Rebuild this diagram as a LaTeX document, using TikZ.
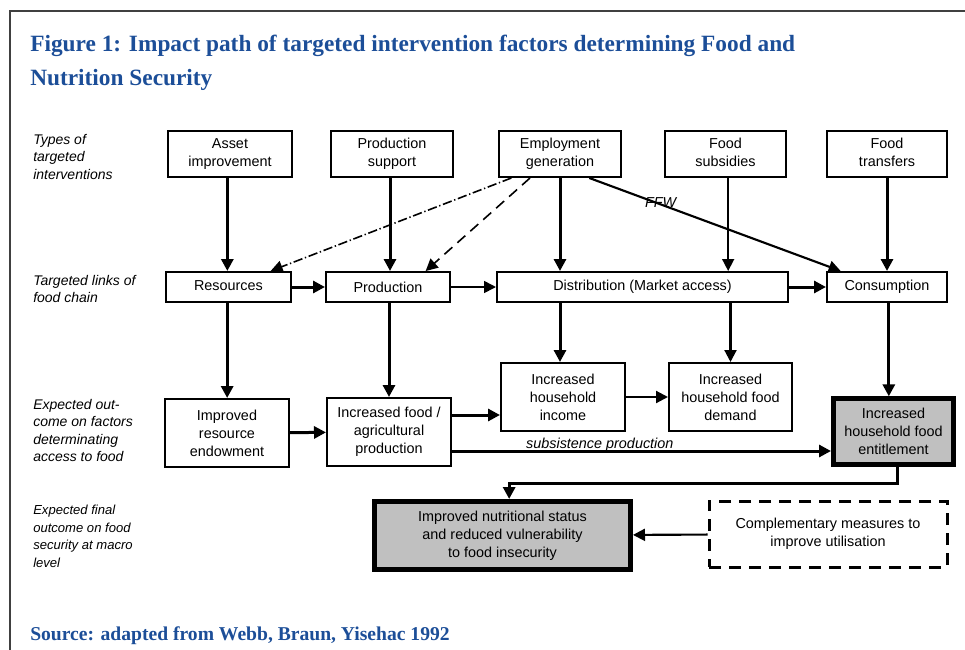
\documentclass[tikz,border=0pt]{standalone}
\usepackage{fontspec}
\setmainfont{Liberation Sans}
\newfontfamily\headfont{Liberation Serif}
\usetikzlibrary{arrows.meta}
\definecolor{headblue}{RGB}{28,78,152}
\definecolor{boxgray}{RGB}{192,192,192}
\newcommand\boxfont{\fontsize{10.8pt}{13.5pt}\selectfont}
\newcommand\rowfont{\fontsize{10.5pt}{13.1pt}\selectfont\itshape}

\begin{document}
\begin{tikzpicture}[x=0.75pt,y=-0.75pt,
  box/.style={draw, line width=1.5pt, align=center, inner sep=0pt, font=\boxfont},
  keybox/.style={box, fill=boxgray, line width=3.75pt},
  optbox/.style={box, line width=2.25pt, dash pattern=on 9pt off 6pt},
  rowlabel/.style={anchor=north west, align=left, inner sep=0pt, font=\rowfont},
  arr/.style={-{Triangle[length=9pt,width=9pt]}, line width=2.25pt},
  thinarr/.style={-{Triangle[length=9pt,width=9pt]}, line width=1.2pt},
  midarr/.style={-{Triangle[length=9pt,width=9pt]}, line width=1.6pt},
  head/.style={anchor=north west, align=left, inner sep=0pt, text=headblue,
    font=\headfont\bfseries\fontsize{17.5pt}{25.5pt}\selectfont},
]
\useasboundingbox (0,0) rectangle (965,650);

% frame
\draw[line width=1.6pt, black!75] (965,11) -- (10,11) -- (10,650);

% heading and source
\node[head] (title) at (30,35) {Figure 1: Impact path of targeted intervention factors determining Food and\\Nutrition Security};
\node[anchor=base west, inner sep=0pt, text=headblue,
  font=\headfont\bfseries\fontsize{14.7pt}{18pt}\selectfont] (source) at (30,640)
  {Source: adapted from Webb, Braun, Yisehac 1992};

% row labels
\node[rowlabel] (l1) at (33,134) {Types of\\targeted\\interventions};
\node[rowlabel] (l2) at (33,275) {Targeted links of\\food chain};
\node[rowlabel] (l3) at (33,399) {Expected out-\\come on factors\\determinating\\access to food};
\node[rowlabel, font=\fontsize{9.8pt}{13.1pt}\selectfont\itshape] (l4) at (33,505)
  {Expected final\\outcome on food\\security at macro\\level};

% types of targeted interventions
\node[box, minimum width=93pt, minimum height=34.5pt] (asset) at (230,154) {Asset\\improvement};
\node[box, minimum width=91.5pt, minimum height=34.5pt] (psup) at (392,154) {Production\\support};
\node[box, minimum width=91.5pt, minimum height=34.5pt] (emp) at (560,154) {Employment\\generation};
\node[box, minimum width=90.75pt, minimum height=34.5pt] (fsub) at (725.5,154) {Food\\subsidies\vphantom{g}};
\node[box, minimum width=90pt, minimum height=34.5pt] (ftr) at (887,154) {Food\\transfers\vphantom{g}};

% links of the food chain
\node[box, minimum width=93.75pt, minimum height=22.5pt] (res) at (228.5,287) {Resources\vphantom{p}};
\node[box, minimum width=93pt, minimum height=22.5pt] (prod) at (388,287) {Production};
\node[box, minimum width=218.25pt, minimum height=22.5pt] (dist) at (642.5,287) {Distribution (Market access)};
\node[box, minimum width=90pt, minimum height=22.5pt] (cons) at (887,287) {Consumption};

% expected outcomes
\node[box, minimum width=93pt, minimum height=51pt] (inc) at (563,397) {Increased\\household\\income};
\node[box, minimum width=92.25pt, minimum height=51pt] (dem) at (730.5,397) {Increased\\household food\\demand};
\node[box, minimum width=93pt, minimum height=51pt] (endow) at (227,433) {Improved\\resource\\endowment};
\node[box, minimum width=93pt, minimum height=51pt] (agri) at (389,432) {Increased food /\\agricultural\\production};
\node[keybox, minimum width=90pt, minimum height=49pt] (ent) at (893.5,431.5) {Increased\\household food\\entitlement};

% final outcome
\node[keybox, minimum width=192pt, minimum height=51pt] (nut) at (502.5,535.5)
  {Improved nutritional status\\and reduced vulnerability\\to food insecurity};
\node[optbox, minimum width=178.5pt, minimum height=49.5pt] (comp) at (828,534)
  {Complementary measures to\\improve utilisation};

% interventions to food chain
\draw[arr] ([xshift=-2pt]asset.south) -- ([xshift=-2pt]asset.south |- res.north);
\draw[arr] ([xshift=-1.5pt]psup.south) -- ([xshift=-1.5pt]psup.south |- prod.north);
\draw[arr] (emp.south) -- (emp.south |- dist.north);
\draw[thinarr] ([xshift=2pt]fsub.south) -- ([xshift=2pt]fsub.south |- dist.north);
\draw[arr] (ftr.south) -- (ftr.south |- cons.north);
\draw[midarr] ([xshift=22pt]emp.south) -- node[pos=0.3, above=-5pt, xshift=-3pt, font=\boxfont\itshape] (ffw) {FFW} ([xshift=11pt]cons.north west);
\draw[thinarr, dash pattern=on 7pt off 2pt on 1pt off 2pt] ([xshift=10pt]emp.south west) -- ([xshift=-16pt]res.north east);
\draw[thinarr, dash pattern=on 8pt off 5pt] ([xshift=24pt]emp.south west) -- ([xshift=-19pt]prod.north east);

% along the food chain
\draw[arr] (res) -- (prod);
\draw[thinarr] (prod) -- (dist);
\draw[arr] (dist) -- (cons);

% food chain to outcomes
\draw[arr] ([xshift=-1pt]res.south) -- ([xshift=-1pt]res.south |- endow.north);
\draw[arr] (agri.north |- prod.south) -- (agri.north);
\draw[arr] ([xshift=-2.25pt]inc.north |- dist.south) -- ([xshift=-2.25pt]inc.north);
\draw[midarr] (dem.north |- dist.south) -- (dem.north);
\draw[arr] ([xshift=-3.5pt]ent.north |- cons.south) -- ([xshift=-3.5pt]ent.north);

% between outcomes
\draw[arr] (endow) -- (agri);
\draw[arr] ([yshift=12.75pt]agri.east) -- ([yshift=12.75pt]agri.east -| inc.west);
\draw[midarr] (inc) -- (dem);
\draw[arr] ([yshift=-14.25pt]agri.east) -- node[pos=0.39, above=-5pt, font=\boxfont\itshape] (subs) {subsistence production} ([yshift=-14.25pt]agri.east -| ent.west);
\draw[arr] ([xshift=3pt]ent.south) -- ++(0,17) -| ([xshift=5pt]nut.north);
\draw[midarr] (comp) -- (nut);
\end{tikzpicture}
\end{document}
